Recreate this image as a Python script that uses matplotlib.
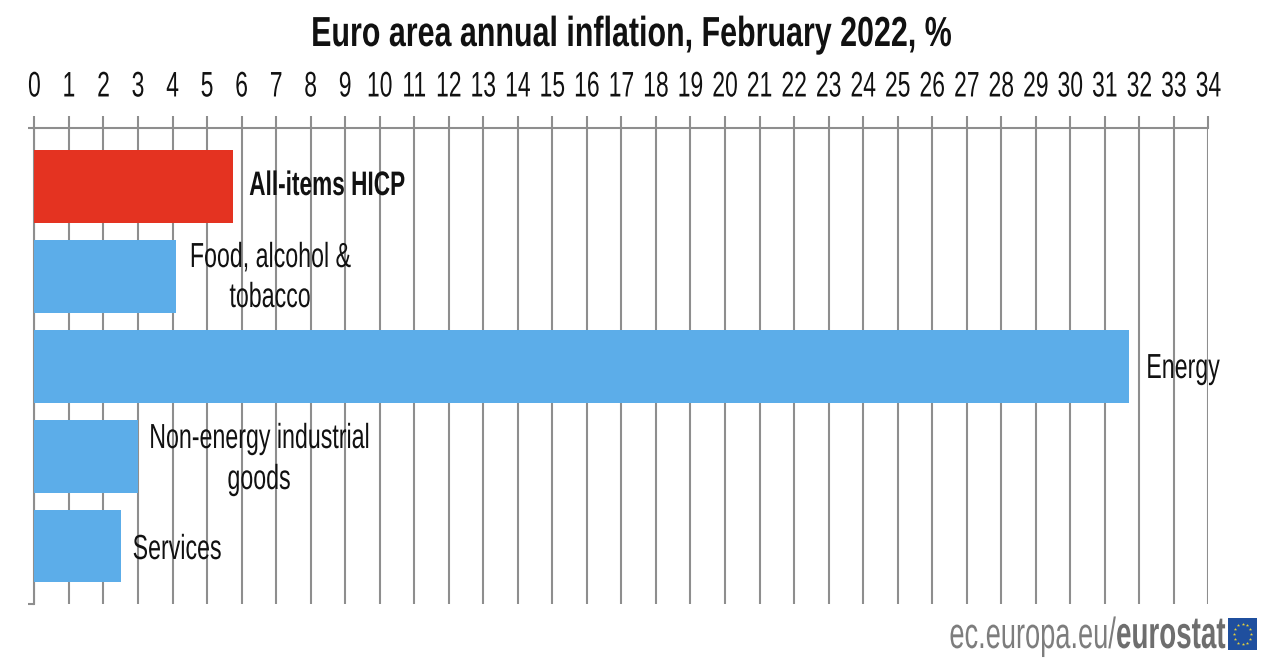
import numpy as np
import matplotlib
matplotlib.use("Agg")
import matplotlib.pyplot as plt
from matplotlib import font_manager as fm
from matplotlib.patheffects import AbstractPathEffect
from matplotlib.transforms import Affine2D

categories = ["All-items HICP", "Food, alcohol &\ntobacco", "Energy",
              "Non-energy industrial\ngoods", "Services"]
values = [5.75, 4.1, 31.7, 3.0, 2.5]
tick_values = list(range(0, 35))
title = "Euro area annual inflation, February 2022, %"

W, H = 1261, 658
names = {f.name for f in fm.fontManager.ttflist}
FONT = "Liberation Sans Narrow" if "Liberation Sans Narrow" in names else "Liberation Sans"


class Stretch(AbstractPathEffect):
    """Vertically stretched glyphs, as in the reference picture."""
    def __init__(self, sy=1.3):
        super().__init__()
        self.sy = sy

    def draw_path(self, renderer, gc, tpath, affine, rgbFace=None):
        renderer.draw_path(gc, tpath, Affine2D().scale(1, self.sy) + affine, rgbFace)


fig = plt.figure(figsize=(W / 100, H / 100), dpi=100, facecolor="white")
ax = fig.add_axes([34.4 / W, 1 - 604 / H, (1208 - 34) / W, (604 - 128) / H])

GRID = "#8e8e8e"
colors = ["#e43321"] + ["#5cade9"] * 4
y = np.arange(len(values))
ax.barh(y, values, height=0.81, color=colors, zorder=3)
ax.set_xlim(0, 34)
ax.set_ylim(4.645, -0.655)

ax.set_xticks(tick_values)
ax.xaxis.tick_top()
ax.tick_params(axis="x", length=8.6, width=1.5, color=GRID, pad=10.5)
ax.set_yticks([4.645, -0.655])
ax.set_yticklabels([])
ax.tick_params(axis="y", length=4.3, width=1.5, color=GRID)
ax.grid(axis="x", color=GRID, lw=1.5, zorder=1)
ax.set_axisbelow(True)
for s in ("right", "bottom"):
    ax.spines[s].set_visible(False)
for s in ("top", "left"):
    ax.spines[s].set_color(GRID)
    ax.spines[s].set_linewidth(1.5)

for lab in ax.get_xticklabels():
    lab.set_fontfamily(FONT)
    lab.set_fontsize(16.5)
    lab.set_color("#111111")
    lab.set_path_effects([Stretch(1.55)])


def put(px, py, s, sy=1.5, **kw):
    return fig.text(px / W, 1 - py / H, s, family=FONT, va="baseline",
                    path_effects=[Stretch(sy)], **kw)


put(630.5, 46, title, sy=1.38, fontsize=21.9, fontweight="bold", ha="center", color="#111111")

label_x = [327, 270, 1183, 259, 177]
label_y = [[195], [267, 307], [378], [448, 489], [559]]
for i, cat in enumerate(categories):
    for line, py in zip(cat.split("\n"), label_y[i]):
        put(label_x[i], py, line, fontsize=16.3 if i == 0 else 16.7, ha="center",
            color="#111111", fontweight="bold" if i == 0 else "normal", zorder=5)

put(1116, 648, "ec.europa.eu/", sy=1.6, fontsize=19.6, ha="right", color="#7d7d7d")
put(1116, 648, "eurostat", sy=1.62, fontsize=20, ha="left", color="#6e6e6e", fontweight="bold")

flag = fig.add_axes([1228 / W, 1 - 650 / H, 29 / W, 32 / H])
flag.set_facecolor("#1f4f9e")
flag.set_xticks([])
flag.set_yticks([])
for s in flag.spines.values():
    s.set_visible(False)
angles = np.arange(12) * np.pi / 6
flag.scatter(np.cos(angles) * 0.62, np.sin(angles) * 0.62, marker="*", s=6,
             color="#e8d23a", linewidths=0)
flag.set_xlim(-1, 1)
flag.set_ylim(-1, 1)

fig.savefig("out.png", dpi=100, facecolor="white")
